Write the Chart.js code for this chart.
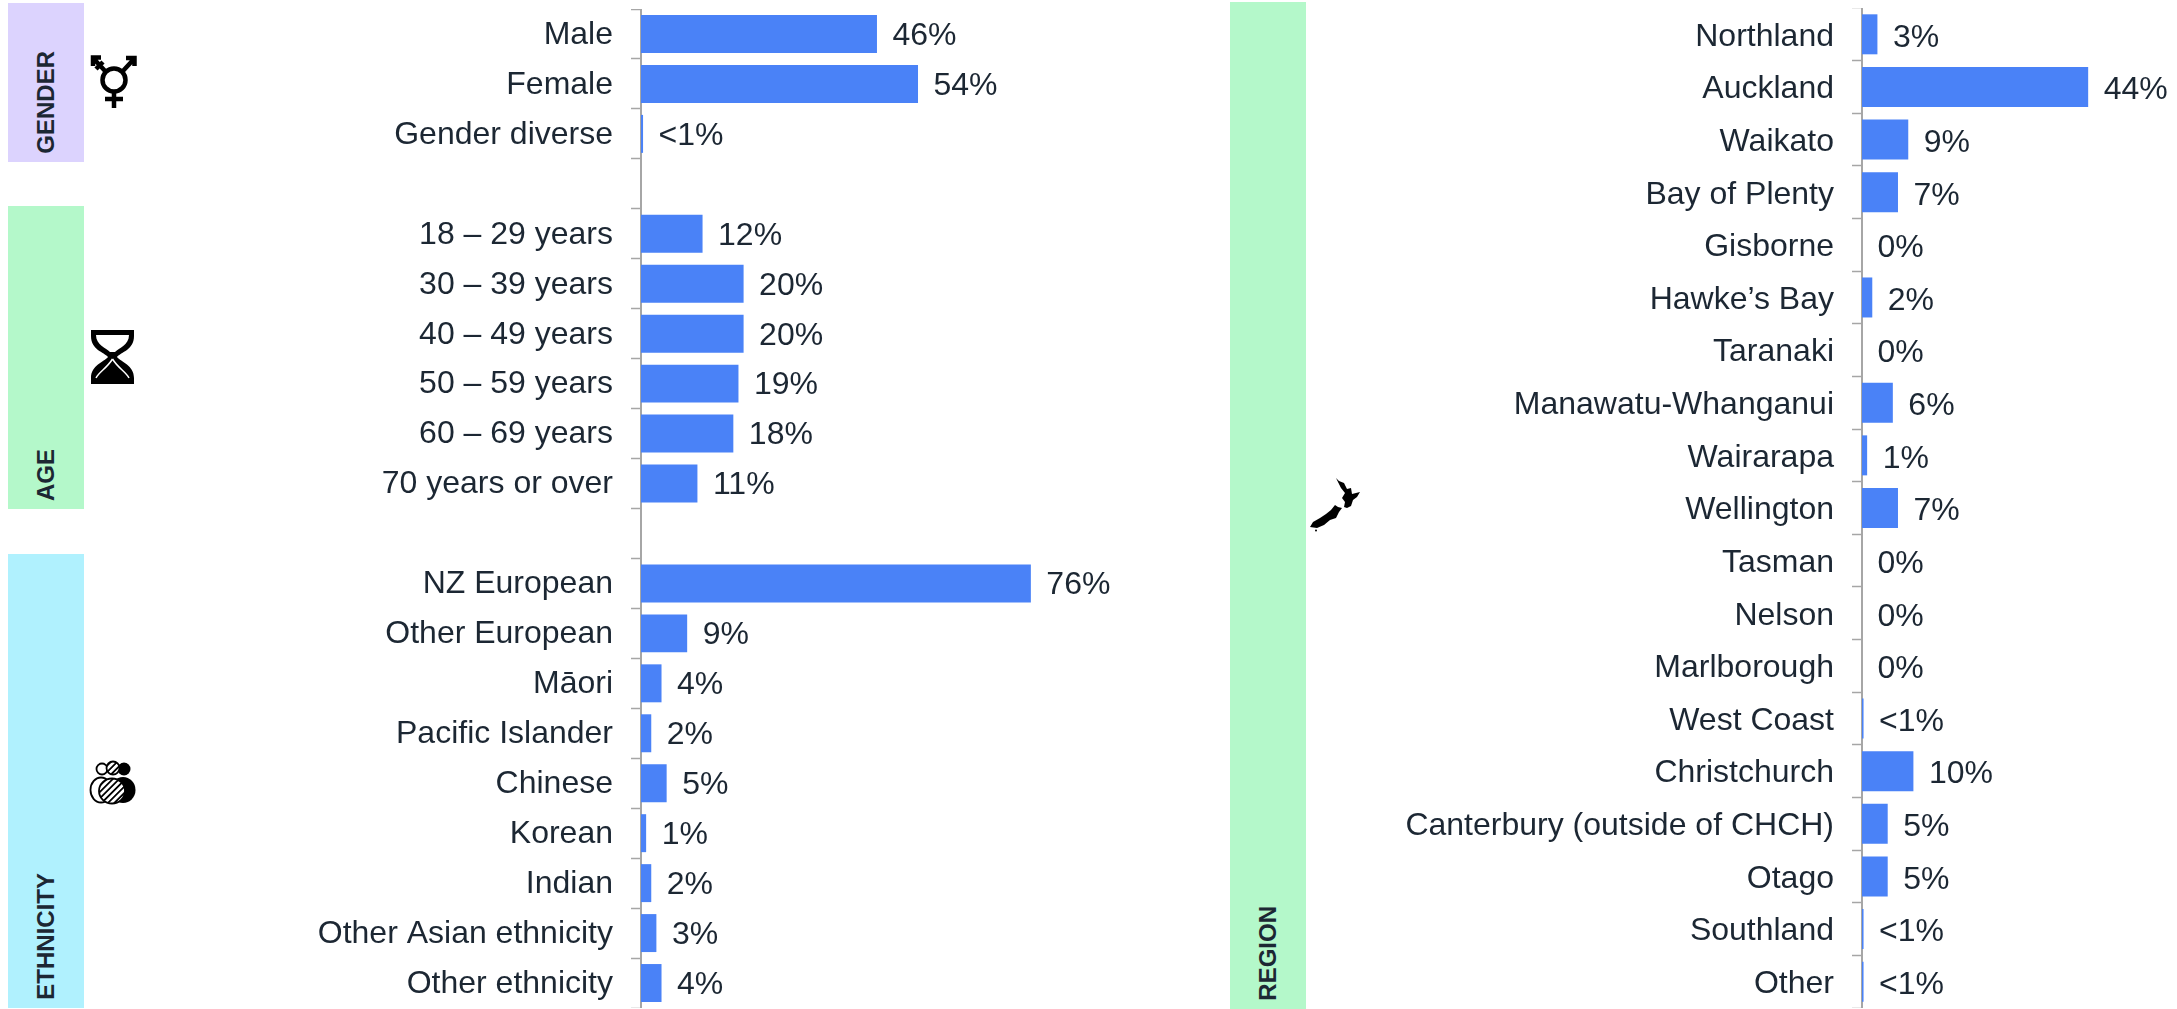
<!DOCTYPE html>
<html>
<head>
<meta charset="utf-8">
<script src="https://cdn.jsdelivr.net/npm/chart.js@4"></script>
<style>
  html, body { margin: 0; padding: 0; background: #fff; }
  #page { position: relative; width: 2177px; height: 1009px; overflow: hidden; }
  canvas { position: absolute; }
  .strip { position: absolute; }
  .strip span {
    position: absolute; left: 0; bottom: 8px; width: 100%;
    writing-mode: vertical-rl; transform: rotate(180deg);
    display: flex; align-items: center;
    font: bold 24px "Liberation Sans", Arial, sans-serif; color: #1c2733;
  }
  svg.icon { position: absolute; }
</style>
</head>
<body>
<div id="page">
  <div class="strip" style="left:8px;top:3px;width:76px;height:159px;background:#dcd3fe"><span>GENDER</span></div>
  <div class="strip" style="left:8px;top:206px;width:76px;height:303px;background:#b4f8ca"><span>AGE</span></div>
  <div class="strip" style="left:8px;top:554px;width:76px;height:454px;background:#b0f1fe"><span>ETHNICITY</span></div>
  <div class="strip" style="left:1230px;top:2px;width:76px;height:1007px;background:#b4f8ca"><span>REGION</span></div>

  <!-- icons -->
  <svg class="icon" style="left:88px;top:52px" width="50" height="60" viewBox="0 0 50 60" fill="none" stroke="#000" stroke-width="4.500">
    <circle cx="26" cy="28" r="11.500"/>
    <path d="M26 40V56M17 47H35M34 20L46 7M38 6H46.500V14M18 20L6 7M5 14V5.500H13M8 17L15 10"/>
  </svg>
  <svg class="icon" style="left:91px;top:330px" width="43" height="54" viewBox="0 0 43 54">
    <path fill="#000" d="M0 0H43V6C43 20 30 22 26 27C30 32 43 35 43 48V54H0V48C0 35 13 32 17 27C13 22 0 20 0 6Z"/>
    <path fill="#fff" d="M5 5H38C38 15 28 18 24 22H19C15 18 5 15 5 5Z"/>
    <path fill="none" stroke="#fff" stroke-width="1.500" d="M21.500 29C16 38 8 42 5 48M21.500 29C27 38 35 42 38 48"/>
  </svg>
  <svg class="icon" style="left:88px;top:758px" width="50" height="50" viewBox="0 0 50 50">
    <defs>
      <pattern id="hatch" width="4.500" height="4.500" patternUnits="userSpaceOnUse" patternTransform="rotate(45)">
        <rect width="4.500" height="4.500" fill="#fff"/><rect width="1.800" height="4.500" fill="#000"/>
      </pattern>
    </defs>
    <circle cx="36" cy="11" r="6.500" fill="#000"/>
    <circle cx="14" cy="11" r="5.500" fill="#fff" stroke="#000" stroke-width="1.800"/>
    <circle cx="25" cy="10" r="6.500" fill="url(#hatch)" stroke="#000" stroke-width="1.800"/>
    <ellipse cx="35" cy="32" rx="12.500" ry="13" fill="#000"/>
    <ellipse cx="13" cy="32" rx="10.500" ry="12.500" fill="#fff" stroke="#000" stroke-width="1.800"/>
    <ellipse cx="24" cy="33" rx="13" ry="12.500" fill="url(#hatch)" stroke="#000" stroke-width="1.800"/>
  </svg>
  <svg class="icon" style="left:1220px;top:440px" width="160" height="120" viewBox="0 0 160 120">
    <path fill="#000" d="M116 38L119 41L124 43L127 49L131 48L132 54L140 52L137 57L133 60L131 66L127 68L124 67L125 62L122 58L125 53L121 48Z"/>
    <path fill="#000" d="M115 65L118 67L122 68L119 72L116 78L110 80L104 85L97 88L90 87L93 82L100 78L106 74L111 70Z"/>
    <circle cx="96" cy="90.500" r="1" fill="#000"/>
  </svg>

  <canvas id="leftChart" style="left:0;top:9px"></canvas>
  <canvas id="rightChart" style="left:1310px;top:8px"></canvas>
</div>
<script>
// left panel
const leftCategories = ["Male", "Female", "Gender diverse", "",
  "18 – 29 years", "30 – 39 years", "40 – 49 years", "50 – 59 years", "60 – 69 years", "70 years or over", "",
  "NZ European", "Other European", "Māori", "Pacific Islander", "Chinese", "Korean", "Indian", "Other Asian ethnicity", "Other ethnicity"];
const leftValues = [46, 54, 0.4, null, 12, 20, 20, 19, 18, 11, null, 76, 9, 4, 2, 5, 1, 2, 3, 4];
const leftLabels = ["46%", "54%", "<1%", "", "12%", "20%", "20%", "19%", "18%", "11%", "", "76%", "9%", "4%", "2%", "5%", "1%", "2%", "3%", "4%"];

// right panel
const rightCategories = ["Northland", "Auckland", "Waikato", "Bay of Plenty", "Gisborne", "Hawke’s Bay", "Taranaki",
  "Manawatu-Whanganui", "Wairarapa", "Wellington", "Tasman", "Nelson", "Marlborough", "West Coast", "Christchurch",
  "Canterbury (outside of CHCH)", "Otago", "Southland", "Other"];
const rightValues = [3, 44, 9, 7, 0, 2, 0, 6, 1, 7, 0, 0, 0, 0.3, 10, 5, 5, 0.3, 0.3];
const rightLabels = ["3%", "44%", "9%", "7%", "0%", "2%", "0%", "6%", "1%", "7%", "0%", "0%", "0%", "<1%", "10%", "5%", "5%", "<1%", "<1%"];

const FONT = '"Liberation Sans", Arial, sans-serif';
const TEXT = "#1c2733";

// writes the percent text just past the end of each bar
const barLabels = {
  id: "barLabels",
  afterDatasetsDraw(chart, args, opts) {
    const ctx = chart.ctx;
    const bars = chart.getDatasetMeta(0).data;
    const vals = chart.data.datasets[0].data;
    ctx.save();
    ctx.font = "32px " + FONT;
    ctx.fillStyle = TEXT;
    ctx.textBaseline = "middle";
    bars.forEach(function (bar, i) {
      if (!opts.texts[i]) return;
      ctx.fillText(opts.texts[i], chart.scales.x.getPixelForValue(vals[i] || 0) + 15.5, bar.y + opts.shift + 1);
    });
    ctx.restore();
  }
};

function makeChart(id, w, h, axisWidth, maxValue, cats, vals, texts, shift) {
  const el = document.getElementById(id);
  el.width = w;
  el.height = h;
  return new Chart(el, {
    type: "bar",
    data: {
      labels: cats,
      datasets: [{ data: vals, backgroundColor: "#4a82f7", barPercentage: 0.76, categoryPercentage: 1 }]
    },
    plugins: [barLabels],
    options: {
      indexAxis: "y",
      responsive: false,
      animation: false,
      layout: { padding: 0 },
      plugins: { legend: { display: false }, tooltip: { enabled: false }, barLabels: { texts: texts, shift: shift } },
      scales: {
        x: { display: false, min: 0, max: maxValue },
        y: {
          // fixed axis width, and no room reserved above/below for the labels
          afterFit(s) { s.width = axisWidth; s.paddingTop = 0; s.paddingBottom = 0; },
          border: { display: true, color: "#a6a6a6", width: 2 },
          grid: { drawOnChartArea: false, offset: true, color: "#a6a6a6", tickLength: 10, tickWidth: 1.5 },
          ticks: { autoSkip: false, padding: 18, labelOffset: shift, color: TEXT, font: { family: FONT, size: 32 } }
        }
      }
    }
  });
}

makeChart("leftChart", 1220, 999, 641, 112.87, leftCategories, leftValues, leftLabels, 1);
makeChart("rightChart", 867, 1000, 552, 61.28, rightCategories, rightValues, rightLabels, 2.5);
</script>
</body>
</html>
